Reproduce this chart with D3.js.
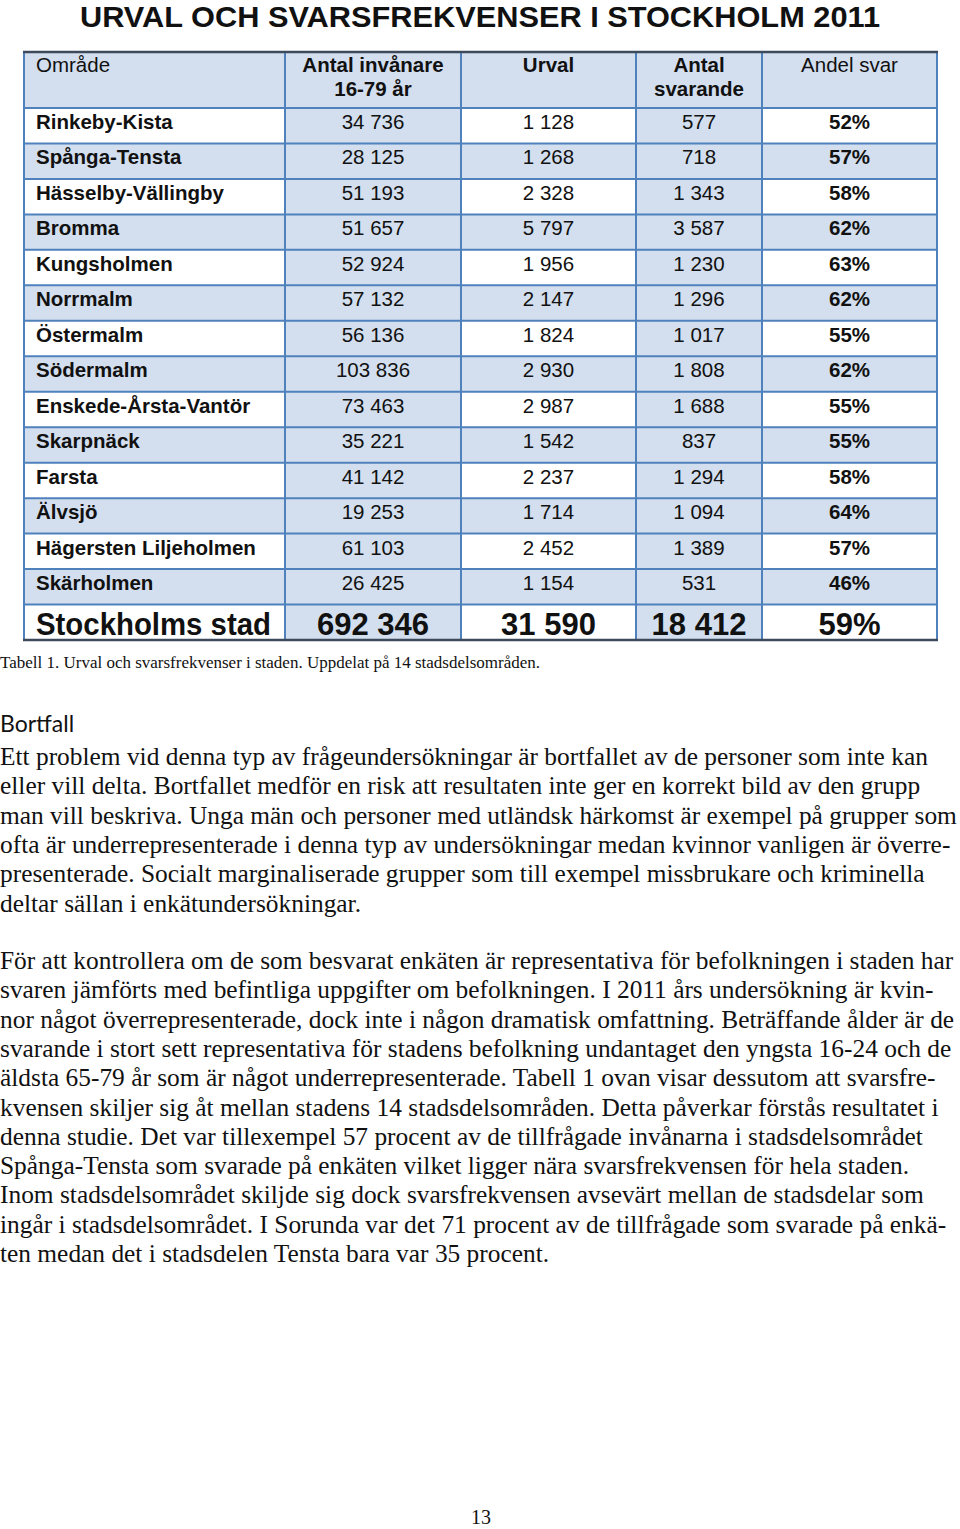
<!DOCTYPE html>
<html>
<head>
<meta charset="utf-8">
<script src="https://cdn.jsdelivr.net/npm/d3@7"></script>
<style>
  body { margin: 0; background: #fff; }
  svg { display: block; }
</style>
</head>
<body>
<script>
// Table data
var areas = ["Rinkeby-Kista", "Spånga-Tensta", "Hässelby-Vällingby", "Bromma", "Kungsholmen",
  "Norrmalm", "Östermalm", "Södermalm", "Enskede-Årsta-Vantör", "Skarpnäck", "Farsta",
  "Älvsjö", "Hägersten Liljeholmen", "Skärholmen"];
var inhabitants = [34736, 28125, 51193, 51657, 52924, 57132, 56136, 103836, 73463, 35221, 41142, 19253, 61103, 26425];
var sample = [1128, 1268, 2328, 5797, 1956, 2147, 1824, 2930, 2987, 1542, 2237, 1714, 2452, 1154];
var respondents = [577, 718, 1343, 3587, 1230, 1296, 1017, 1808, 1688, 837, 1294, 1094, 1389, 531];
var share = [52, 57, 58, 62, 63, 62, 55, 62, 55, 55, 58, 64, 57, 46];
var total = { area: "Stockholms stad", inhabitants: 692346, sample: 31590, respondents: 18412, share: 59 };
var headers = [["Område"], ["Antal invånare", "16-79 år"], ["Urval"], ["Antal", "svarande"], ["Andel svar"]];

// Page texts
var title = "URVAL OCH SVARSFREKVENSER I STOCKHOLM 2011";
var caption = "Tabell 1. Urval och svarsfrekvenser i staden. Uppdelat på 14 stadsdelsområden.";
var heading = "Bortfall";
var para1 = [
  "Ett problem vid denna typ av frågeundersökningar är bortfallet av de personer som inte kan",
  "eller vill delta. Bortfallet medför en risk att resultaten inte ger en korrekt bild av den grupp",
  "man vill beskriva. Unga män och personer med utländsk härkomst är exempel på grupper som",
  "ofta är underrepresenterade i denna typ av undersökningar medan kvinnor vanligen är överre-",
  "presenterade. Socialt marginaliserade grupper som till exempel missbrukare och kriminella",
  "deltar sällan i enkätundersökningar."
];
var para2 = [
  "För att kontrollera om de som besvarat enkäten är representativa för befolkningen i staden har",
  "svaren jämförts med befintliga uppgifter om befolkningen. I 2011 års undersökning är kvin-",
  "nor något överrepresenterade, dock inte i någon dramatisk omfattning. Beträffande ålder är de",
  "svarande i stort sett representativa för stadens befolkning undantaget den yngsta 16-24 och de",
  "äldsta 65-79 år som är något underrepresenterade. Tabell 1 ovan visar dessutom att svarsfre-",
  "kvensen skiljer sig åt mellan stadens 14 stadsdelsområden. Detta påverkar förstås resultatet i",
  "denna studie. Det var tillexempel 57 procent av de tillfrågade invånarna i stadsdelsområdet",
  "Spånga-Tensta som svarade på enkäten vilket ligger nära svarsfrekvensen för hela staden.",
  "Inom stadsdelsområdet skiljde sig dock svarsfrekvensen avsevärt mellan de stadsdelar som",
  "ingår i stadsdelsområdet. I Sorunda var det 71 procent av de tillfrågade som svarade på enkä-",
  "ten medan det i stadsdelen Tensta bara var 35 procent."
];
var pageNumber = "13";

// SVG
var svgWidth = 960;
var svgHeight = 1529;
var svg = d3.select("body").append("svg")
  .attr("width", svgWidth)
  .attr("height", svgHeight);

svg.append("rect").attr("width", svgWidth).attr("height", svgHeight).attr("fill", "#fff");

// Title
svg.append("text")
  .attr("x", 480).attr("y", 27)
  .attr("text-anchor", "middle")
  .attr("font-family", "'Liberation Sans', Arial, sans-serif")
  .attr("font-weight", "bold")
  .attr("font-size", 29.5)
  .attr("textLength", 800)
  .attr("lengthAdjust", "spacingAndGlyphs")
  .attr("fill", "#111")
  .text(title);

// Table layout
var blue = "#d3dfee";
var lineBlue = "#4f81bd";
var colEdges = [24, 285, 461, 636, 762, 937];
var headerTop = 52, headerBottom = 108, tableBottom = 640;

var fmt = d3.formatLocale({ decimal: ",", thousands: " ", grouping: [3], currency: ["", " kr"] }).format(",");

var rows = areas.map(function (a, i) {
  return { area: a, inhabitants: inhabitants[i], sample: sample[i], respondents: respondents[i], share: share[i], total: false };
});
rows.push({ area: total.area, inhabitants: total.inhabitants, sample: total.sample, respondents: total.respondents, share: total.share, total: true });

var y = d3.scaleBand()
  .domain(d3.range(rows.length))
  .range([headerBottom, tableBottom])
  .padding(0);

var x = d3.scaleOrdinal()
  .domain(d3.range(5))
  .range(d3.range(5).map(function (c) { return colEdges[c]; }));
function colW(c) { return colEdges[c + 1] - colEdges[c]; }
function colMid(c) { return (colEdges[c] + colEdges[c + 1]) / 2; }

var table = svg.append("g");

// header cells
table.append("rect")
  .attr("x", colEdges[0]).attr("y", headerTop)
  .attr("width", colEdges[5] - colEdges[0]).attr("height", headerBottom - headerTop)
  .attr("fill", blue);

// body cells: even rows banded columns, odd rows all blue
var cells = [];
rows.forEach(function (r, i) {
  d3.range(5).forEach(function (c) {
    var filled = (i % 2 === 1) || c === 1 || c === 3;
    cells.push({ row: i, col: c, fill: filled ? blue : "#fff" });
  });
});
table.selectAll("rect.cell")
  .data(cells)
  .enter().append("rect")
  .attr("class", "cell")
  .attr("x", d => x(d.col))
  .attr("y", d => y(d.row))
  .attr("width", d => colW(d.col))
  .attr("height", y.bandwidth())
  .attr("fill", d => d.fill);

// grid lines
var hLines = [headerBottom].concat(d3.range(1, rows.length).map(i => y(i)));
table.selectAll("line.h")
  .data(hLines)
  .enter().append("line")
  .attr("x1", colEdges[0]).attr("x2", colEdges[5])
  .attr("y1", d => d).attr("y2", d => d)
  .attr("stroke", lineBlue).attr("stroke-width", 2);
table.selectAll("line.v")
  .data(colEdges)
  .enter().append("line")
  .attr("x1", d => d).attr("x2", d => d)
  .attr("y1", headerTop).attr("y2", tableBottom)
  .attr("stroke", lineBlue).attr("stroke-width", 2);
[headerTop, tableBottom].forEach(function (yy) {
  table.append("line")
    .attr("x1", colEdges[0] - 1).attr("x2", colEdges[5] + 1)
    .attr("y1", yy).attr("y2", yy)
    .attr("stroke", "#3c4a5c").attr("stroke-width", 2.5);
});

// header text
var headerBold = [false, true, true, true, false];
headers.forEach(function (lines, c) {
  var t = table.append("text")
    .attr("font-family", "'Liberation Sans', Arial, sans-serif")
    .attr("font-size", 20.5)
    .attr("font-weight", headerBold[c] ? "bold" : "normal")
    .attr("fill", "#111")
    .attr("text-anchor", c === 0 ? "start" : "middle");
  lines.forEach(function (l, k) {
    t.append("tspan")
      .attr("x", c === 0 ? colEdges[0] + 12 : colMid(c))
      .attr("y", 72 + k * 24)
      .text(l);
  });
});

// body text
var bodyText = [];
rows.forEach(function (r, i) {
  var vals = [r.area, fmt(r.inhabitants), fmt(r.sample), fmt(r.respondents), r.share + "%"];
  vals.forEach(function (v, c) {
    bodyText.push({ row: i, col: c, text: v, total: r.total, bold: r.total || c === 0 || c === 4 });
  });
});
var vals = table.selectAll("text.val")
  .data(bodyText)
  .enter().append("text")
  .attr("class", "val")
  .attr("x", d => d.col === 0 ? x(d.col) + 12 : colMid(d.col))
  .attr("y", d => y(d.row) + (d.total ? 30 : 21))
  .attr("text-anchor", d => d.col === 0 ? "start" : "middle")
  .attr("font-family", "'Liberation Sans', Arial, sans-serif")
  .attr("font-size", d => d.total ? 31 : 20.5)
  .attr("font-weight", d => d.bold ? "bold" : "normal")
  .attr("fill", "#111")
  .text(d => d.text);

// the total row label is set in a narrow face in the original
vals.filter(d => d.total && d.col === 0)
  .attr("textLength", 235)
  .attr("lengthAdjust", "spacingAndGlyphs");

// caption
svg.append("text")
  .attr("x", 0).attr("y", 668)
  .attr("font-family", "'Liberation Serif', 'Times New Roman', serif")
  .attr("font-size", 16.5)
  .attr("textLength", 540)
  .attr("lengthAdjust", "spacingAndGlyphs")
  .attr("fill", "#111")
  .text(caption);

// heading
svg.append("text")
  .attr("x", 0).attr("y", 732)
  .attr("font-family", "Lato, sans-serif")
  .attr("font-size", 23)
  .attr("fill", "#111")
  .text(heading);

// paragraphs
function paragraph(lines, top) {
  svg.append("g").selectAll("text")
    .data(lines)
    .enter().append("text")
    .attr("x", 0)
    .attr("y", (d, i) => top + i * 29.3)
    .attr("font-family", "'Liberation Serif', 'Times New Roman', serif")
    .attr("font-size", 25.4)
    .attr("fill", "#111")
    .text(d => d);
}
paragraph(para1, 765);
paragraph(para2, 969);

// page number
svg.append("text")
  .attr("x", 481).attr("y", 1524)
  .attr("text-anchor", "middle")
  .attr("font-family", "'Liberation Serif', 'Times New Roman', serif")
  .attr("font-size", 20)
  .attr("fill", "#111")
  .text(pageNumber);
</script>
</body>
</html>
